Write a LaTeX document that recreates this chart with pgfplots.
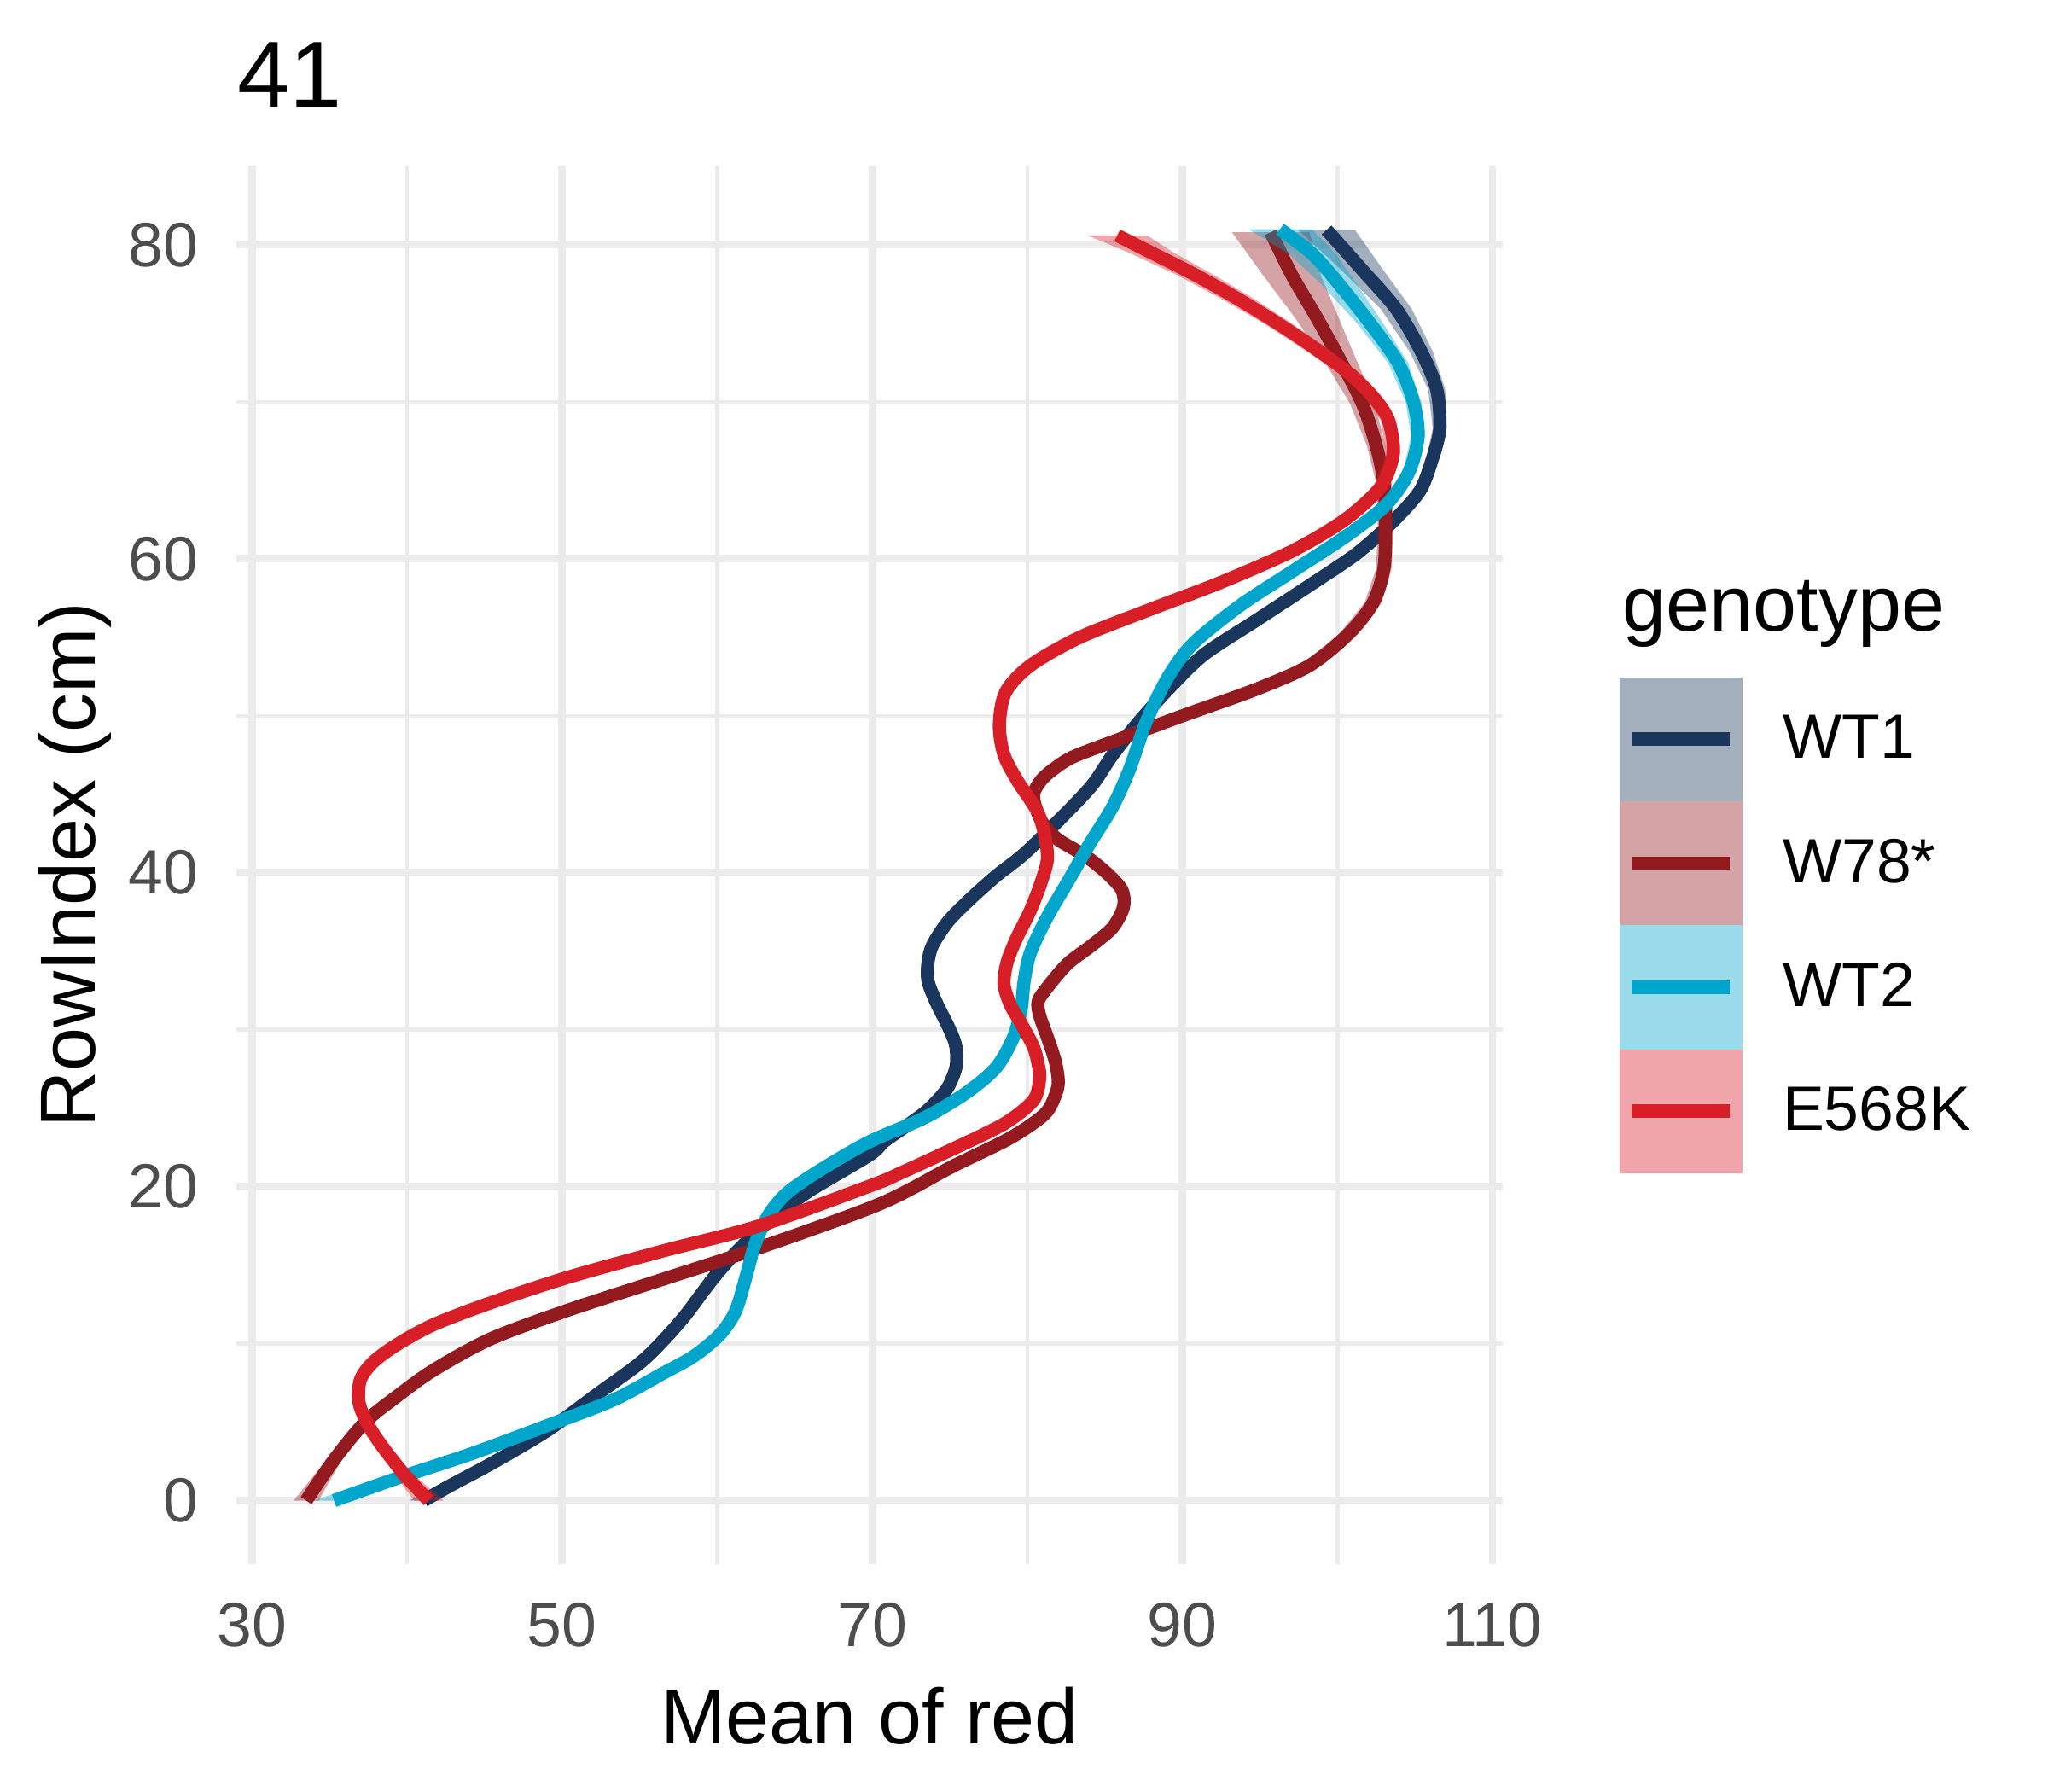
\documentclass[border=0pt]{standalone}
\usepackage{fontspec}
\setmainfont{Liberation Sans}
\usepackage{pgfplots}
\usepackage{pgfplotstable}
\pgfplotsset{compat=1.18}
\definecolor{wtone}{HTML}{1B365D}
\definecolor{wse}{HTML}{931A1F}
\definecolor{wttwo}{HTML}{00A5CC}
\definecolor{ekk}{HTML}{D81F27}
\definecolor{gridc}{HTML}{EBEBEB}
\definecolor{tickc}{HTML}{4D4D4D}

\pgfplotstableread{
y x
0.0 41.1
0.8 42.5
2.5 45.7
4.5 49.1
6.8 52.3
9.0 55.3
11.5 57.7
14.1 59.7
16.0 61.4
18.0 63.6
19.7 65.9
22.0 69.8
22.9 70.8
24.0 72.4
24.9 73.6
26.2 74.8
27.6 75.4
28.9 75.4
30.0 75.0
31.8 74.1
33.1 73.6
34.3 73.6
35.4 73.9
36.9 74.9
38.3 76.3
39.8 78.0
41.2 79.8
43.6 82.3
45.6 84.2
47.5 85.5
49.5 87.1
51.7 89.1
53.9 91.4
56.1 94.8
58.3 98.2
60.3 101.2
62.3 103.5
64.3 105.3
66.3 106.1
68.3 106.6
70.8 106.4
73.2 105.4
75.9 103.8
78.4 101.6
80.95 99.3
}\tabwtone

\pgfplotstableread{
y x
0.0 33.5
2.6 35.3
5.0 37.3
6.6 39.3
8.3 41.7
10.3 45.4
12.1 50.3
14.1 56.5
16.1 62.7
18.9 70.5
21.3 75.2
23.1 78.9
24.6 81.1
25.8 81.8
26.7 82.0
28.0 81.8
29.5 81.3
30.9 80.8
31.8 80.7
32.7 81.3
34.2 82.6
35.4 84.2
36.5 85.5
37.8 86.2
38.9 86.1
40.0 85.1
41.1 83.7
42.1 82.0
43.0 81.1
44.0 80.6
45.0 80.4
45.9 80.9
46.6 81.7
47.4 83.0
48.6 86.2
50.1 90.3
51.7 94.8
53.2 98.2
55.2 100.7
57.2 102.3
59.4 103.0
62.1 103.1
64.8 103.0
67.2 102.5
69.9 101.6
72.6 100.2
75.3 98.7
78.0 97.1
80.8 95.7
}\tabwse

\pgfplotstableread{
y x
0.0 35.3
1.4 39.3
3.0 44.2
4.8 49.1
6.4 53.3
8.1 56.5
9.2 58.5
10.6 60.2
12.1 61.2
14.4 61.9
16.2 62.4
18.0 63.2
19.5 64.4
20.9 66.4
22.8 69.7
24.4 73.4
26.0 76.1
27.6 78.0
29.5 79.1
31.3 79.6
33.1 79.8
34.9 80.2
37.2 81.3
39.4 82.6
41.8 84.0
44.2 85.5
46.6 86.6
49.7 87.7
52.5 89.1
54.6 90.7
57.0 93.7
59.2 97.1
61.4 100.5
63.4 103.1
65.5 104.6
67.8 105.2
70.0 104.9
72.5 103.9
75.0 102.1
77.5 100.1
79.4 98.4
81.0 96.3
}\tabwttwo

\pgfplotstableread{
y x
0.0 41.4
1.7 39.8
3.6 38.3
5.0 37.4
6.3 36.9
7.7 37.0
8.8 37.8
9.9 39.3
11.2 41.7
12.6 45.4
14.2 50.3
15.9 56.5
17.5 62.7
20.1 70.0
20.9 71.9
22.4 75.2
24.0 78.5
25.5 80.4
26.9 80.8
27.8 80.7
28.9 80.4
30.4 79.6
31.6 78.9
32.9 78.5
34.3 78.7
35.8 79.3
37.6 80.2
39.4 80.9
40.9 81.3
42.5 81.1
44.0 80.6
45.8 79.4
47.5 78.5
49.4 78.2
51.5 78.6
53.2 80.2
55.0 83.4
56.8 88.0
58.5 92.5
60.5 97.1
62.5 100.5
64.6 102.8
66.7 103.6
68.8 103.3
70.2 102.4
71.7 100.9
73.3 98.7
74.9 96.3
76.6 93.5
78.1 90.8
79.5 88.0
80.6 85.8
}\tabekk

\pgfplotsset{
  curve/.style={line width=3.7bp, line join=round, smooth},
  rib/.style={draw=none, fill=#1, fill opacity=0.4, forget plot},
  keyimg/.style={legend image code/.code={%
    \path[draw=none, fill=#1!40!white] (0bp,-17.44bp) rectangle (34.56bp,17.44bp);
    \path[draw=#1, line width=3.8bp] (3.36bp,0bp) -- (30.96bp,0bp);}},
}

\begin{document}
\begin{tikzpicture}
\path[use as bounding box] (0,0) rectangle (576bp,-504bp);
\begin{axis}[
  at={(66.48bp,-46.56bp)}, anchor=north west,
  width=356.16bp, height=393.36bp, scale only axis,
  xmin=29.0, xmax=110.66, ymin=-4.05, ymax=85.05,
  xtick={30,50,70,90,110}, minor xtick={40,60,80,100},
  ytick={0,20,40,60,80}, minor ytick={10,30,50,70},
  grid=both,
  major grid style={line width=2.13bp, draw=gridc},
  minor grid style={line width=1.07bp, draw=gridc},
  axis line style={draw=none},
  major tick length=0pt, minor tick length=0pt,
  /pgf/number format/assume math mode=true,
  tick label style={font=\fontsize{17.6bp}{21bp}\selectfont, text=tickc, inner sep=0pt},
  xticklabel style={anchor=north, yshift=-10.56bp},
  yticklabel style={anchor=east, xshift=-10.56bp},
  xlabel={Mean of red}, ylabel={RowIndex (cm)},
  label style={font=\fontsize{22bp}{26bp}\selectfont, inner sep=0pt},
  xlabel style={at={(axis description cs:0.5,-0.0875)}, anchor=north},
  ylabel style={at={(axis description cs:-0.098,0.5)}, anchor=south},
  legend style={draw=none, fill=none, inner sep=0pt, outer sep=0pt,
    row sep=0pt, column sep=11.28bp,
    at={(axis description cs:1.0923,0.6342)}, anchor=north west,
    font=\fontsize{17.6bp}{21bp}\selectfont, nodes={inner sep=0pt}},
  legend cell align=left,
]
% WT1
\addplot[rib=wtone] coordinates {(105.70,66.3) (106.15,68.3) (105.85,70.8) (104.65,73.2) (102.8,75.9) (100.25,78.4) (97.47,80.95) (101.13,80.95) (102.95,78.4) (104.8,75.9) (106.15,73.2) (106.95,70.8) (107.05,68.3) (106.50,66.3)} -- cycle;
\addplot[rib=wtone] coordinates {(40.15,0) (41.75,0.8) (45.0,2.5) (46.4,2.5) (43.25,0.8) (42.05,0)} -- cycle;
\addplot[curve, color=wtone, keyimg=wtone] table[x=x,y=y] {\tabwtone};
\addlegendentry{WT1}
% W78*
\addplot[rib=wse] coordinates {(97.6,53.2) (100.1,55.2) (101.75,57.2) (102.5,59.4) (102.6,62.1) (102.5,64.8) (101.9,67.2) (100.8,69.9) (99.15,72.6) (97.3,75.3) (95.25,78.0) (93.2,80.8) (98.2,80.8) (98.95,78.0) (100.1,75.3) (101.25,72.6) (102.4,69.9) (103.1,67.2) (103.5,64.8) (103.6,62.1) (103.5,59.4) (102.85,57.2) (101.3,55.2) (98.8,53.2)} -- cycle;
\addplot[rib=wse] coordinates {(32.7,0) (34.8,2.6) (35.8,2.6) (34.3,0)} -- cycle;
\addplot[curve, color=wse, keyimg=wse] table[x=x,y=y] {\tabwse};
\addlegendentry{W78*}
% WT2
\addplot[rib=wttwo] coordinates {(104.2,65.5) (104.75,67.8) (104.4,70.0) (103.25,72.5) (101.25,75.0) (98.95,77.5) (96.9,79.4) (94.25,81.0) (98.35,81.0) (99.9,79.4) (101.25,77.5) (102.95,75.0) (104.55,72.5) (105.4,70.0) (105.65,67.8) (105.0,65.5)} -- cycle;
\addplot[rib=wttwo] coordinates {(34.0,0) (38.15,1.4) (43.1,3.0) (45.3,3.0) (40.45,1.4) (36.6,0)} -- cycle;
\addplot[curve, color=wttwo, keyimg=wttwo] table[x=x,y=y] {\tabwttwo};
\addlegendentry{WT2}
% E568K
\addplot[rib=ekk] coordinates {(102.35,64.6) (103.15,66.7) (102.8,68.8) (101.85,70.2) (100.25,71.7) (97.9,73.3) (95.4,74.9) (92.45,76.6) (89.6,78.1) (86.55,79.5) (83.88,80.6) (87.72,80.6) (89.45,79.5) (92.0,78.1) (94.55,76.6) (97.2,74.9) (99.5,73.3) (101.55,71.7) (102.95,70.2) (103.8,68.8) (104.05,66.7) (103.25,64.6)} -- cycle;
\addplot[rib=ekk] coordinates {(40.45,0) (39.2,1.7) (40.4,1.7) (42.35,0)} -- cycle;
\addplot[curve, color=ekk, keyimg=ekk] table[x=x,y=y] {\tabekk};
\addlegendentry{E568K}
\end{axis}
\node[anchor=base west, inner sep=0pt, font=\fontsize{26.4bp}{30bp}\selectfont] at (66.72bp,-30.24bp) {41};
\node[anchor=base west, inner sep=0pt, font=\fontsize{22bp}{26bp}\selectfont] at (456.24bp,-177.36bp) {genotype};
\end{tikzpicture}
\end{document}
